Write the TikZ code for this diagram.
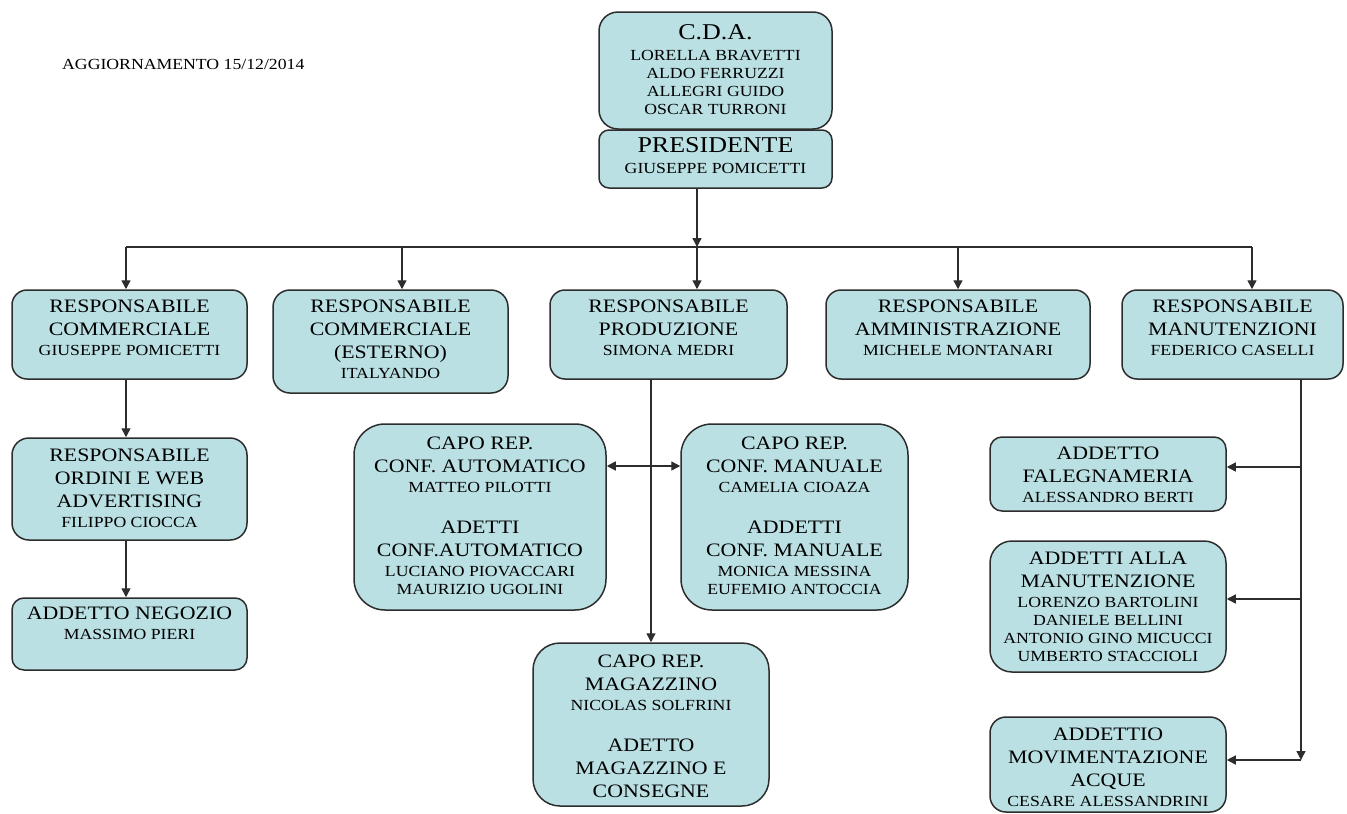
\documentclass[tikz,border=0pt]{standalone}
\usepackage{fontspec}
\setmainfont{Liberation Serif}[FakeStretch=1.15]
\usetikzlibrary{arrows.meta}
\definecolor{tuerkis}{RGB}{186,224,227}
\definecolor{rand}{RGB}{45,45,45}
\newcommand{\riesig}{\fontsize{22.6}{18}\selectfont}
\newcommand{\gross}{\fontsize{19}{18}\selectfont}
\newcommand{\klein}{\fontsize{15.4}{18}\selectfont}

\begin{document}
\begin{tikzpicture}[
        x=1pt,
        y=-1pt,
        kasten/.style={draw=rand, fill=tuerkis, line width=1.5pt, inner sep=0pt},
        schrift/.style={anchor=north, align=center, inner sep=0pt, font=\klein},
        linie/.style={draw=rand, line width=1.4pt},
        pfeil/.style={linie, -{Triangle[length=9pt,width=9pt]}},
        doppelpfeil/.style={linie, {Triangle[length=9pt,width=9pt]}-{Triangle[length=9pt,width=9pt]}}]

\useasboundingbox (0,0) rectangle (1347,814);

%Datum
\node[anchor=base west, inner sep=0pt, font=\klein] (datum) at (62,69) {AGGIORNAMENTO 15/12/2014};

%Vorstand
\node[kasten, minimum width=233, minimum height=117, rounded corners=19] (cda) at (715.5,70.5) {};
\node[schrift] (cdatext) at ([yshift=-13pt]cda.north) {{\riesig C.D.A.}\\[2.7pt]LORELLA BRAVETTI\\ALDO FERRUZZI\\ALLEGRI GUIDO\\OSCAR TURRONI};
\node[kasten, minimum width=233, minimum height=58, rounded corners=10] (pres) at (715.5,159) {};
\node[schrift] (prestext) at ([yshift=-8pt]pres.north) {{\riesig PRESIDENTE}\\[2.7pt]GIUSEPPE POMICETTI};

%Erste Ebene
\node[kasten, minimum width=235, minimum height=89, rounded corners=15] (rc) at (129.5,334.5) {};
\node[schrift] (rctext) at ([yshift=-10pt]rc.north) {{\gross RESPONSABILE}\\[5pt]{\gross COMMERCIALE}\\[2pt]GIUSEPPE POMICETTI};
\node[kasten, minimum width=235, minimum height=103, rounded corners=17] (rce) at (390.5,341.5) {};
\node[schrift] (rcetext) at ([yshift=-10pt]rce.north) {{\gross RESPONSABILE}\\[5pt]{\gross COMMERCIALE}\\[5pt]{\gross (ESTERNO)}\\[2pt]ITALYANDO};
\node[kasten, minimum width=237, minimum height=89, rounded corners=15] (rp) at (668.5,334.5) {};
\node[schrift] (rptext) at ([yshift=-10pt]rp.north) {{\gross RESPONSABILE}\\[5pt]{\gross PRODUZIONE}\\[2pt]SIMONA MEDRI};
\node[kasten, minimum width=264, minimum height=89, rounded corners=15] (ra) at (958,334.5) {};
\node[schrift] (ratext) at ([yshift=-10pt]ra.north) {{\gross RESPONSABILE}\\[5pt]{\gross AMMINISTRAZIONE}\\[2pt]MICHELE MONTANARI};
\node[kasten, minimum width=221, minimum height=89, rounded corners=15] (rm) at (1232.5,334.5) {};
\node[schrift] (rmtext) at ([yshift=-10pt]rm.north) {{\gross RESPONSABILE}\\[5pt]{\gross MANUTENZIONI}\\[2pt]FEDERICO CASELLI};

%Kommerziell
\node[kasten, minimum width=235, minimum height=102, rounded corners=17] (row) at (129.5,489) {};
\node[schrift] (rowtext) at ([yshift=-11pt]row.north) {{\gross RESPONSABILE}\\[5pt]{\gross ORDINI E WEB}\\[5pt]{\gross ADVERTISING}\\[2pt]FILIPPO CIOCCA};
\node[kasten, minimum width=235, minimum height=72, rounded corners=12] (an) at (129.5,634) {};
\node[schrift] (antext) at ([yshift=-9pt]an.north) {{\gross ADDETTO NEGOZIO}\\[2pt]MASSIMO PIERI};

%Produktion
\node[kasten, minimum width=252, minimum height=186, rounded corners=31] (cra) at (480,517) {};
\node[schrift] (cratext) at ([yshift=-13pt]cra.north) {{\gross CAPO REP.}\\[5pt]{\gross CONF. AUTOMATICO}\\[2pt]MATTEO PILOTTI\\[23pt]{\gross ADETTI}\\[5pt]{\gross CONF.AUTOMATICO}\\[2pt]LUCIANO PIOVACCARI\\MAURIZIO UGOLINI};
\node[kasten, minimum width=227, minimum height=186, rounded corners=31] (crm) at (794.5,517) {};
\node[schrift] (crmtext) at ([yshift=-13pt]crm.north) {{\gross CAPO REP.}\\[5pt]{\gross CONF. MANUALE}\\[2pt]CAMELIA CIOAZA\\[23pt]{\gross ADDETTI}\\[5pt]{\gross CONF. MANUALE}\\[2pt]MONICA MESSINA\\EUFEMIO ANTOCCIA};
\node[kasten, minimum width=236, minimum height=163, rounded corners=27] (crmag) at (651,724.5) {};
\node[schrift] (crmagtext) at ([yshift=-12pt]crmag.north) {{\gross CAPO REP.}\\[5pt]{\gross MAGAZZINO}\\[2pt]NICOLAS SOLFRINI\\[23pt]{\gross ADETTO}\\[5pt]{\gross MAGAZZINO E}\\[5pt]{\gross CONSEGNE}};

%Wartung
\node[kasten, minimum width=236, minimum height=74, rounded corners=12] (af) at (1108,474) {};
\node[schrift] (aftext) at ([yshift=-10pt]af.north) {{\gross ADDETTO}\\[5pt]{\gross FALEGNAMERIA}\\[2pt]ALESSANDRO BERTI};
\node[kasten, minimum width=236, minimum height=131, rounded corners=22] (am) at (1108,606.5) {};
\node[schrift] (amtext) at ([yshift=-11pt]am.north) {{\gross ADDETTI ALLA}\\[5pt]{\gross MANUTENZIONE}\\[2pt]LORENZO BARTOLINI\\DANIELE BELLINI\\ANTONIO GINO MICUCCI\\UMBERTO STACCIOLI};
\node[kasten, minimum width=236, minimum height=95, rounded corners=16] (ama) at (1108,764.5) {};
\node[schrift] (amatext) at ([yshift=-11pt]ama.north) {{\gross ADDETTIO}\\[5pt]{\gross MOVIMENTAZIONE}\\[5pt]{\gross ACQUE}\\[2pt]CESARE ALESSANDRINI};

%Verteiler
\coordinate (abzweig1) at (126,247);
\coordinate (abzweig2) at (402,247);
\coordinate (abzweig3) at (697,247);
\coordinate (abzweig4) at (958,247);
\coordinate (abzweig5) at (1252,247);
\coordinate (mv) at ([xshift=68.5pt]rm.south);
\coordinate (konf) at (0,466);
\coordinate (afp) at ([yshift=7pt]af.east);
\coordinate (amp) at ([yshift=7.5pt]am.east);
\coordinate (amap) at ([yshift=4.5pt]ama.east);

%Verbindungen
\draw[pfeil] (abzweig3 |- pres.south) -- (abzweig3);
\draw[linie] (abzweig1) -- (abzweig5);
\draw[pfeil] (abzweig1) -- (abzweig1 |- rc.north);
\draw[pfeil] (abzweig2) -- (abzweig2 |- rce.north);
\draw[pfeil] (abzweig3) -- (abzweig3 |- rp.north);
\draw[pfeil] (abzweig4) -- (abzweig4 |- ra.north);
\draw[pfeil] (abzweig5) -- (abzweig5 |- rm.north);
\draw[pfeil] (abzweig1 |- rc.south) -- (abzweig1 |- row.north);
\draw[pfeil] (abzweig1 |- row.south) -- (abzweig1 |- an.north);
\draw[pfeil] (crmag.north |- rp.south) -- (crmag.north);
\draw[doppelpfeil] (cra.east |- konf) -- (crm.west |- konf);
\draw[pfeil] (mv) -- (mv |- amap);
\draw[pfeil] (mv |- afp) -- (afp);
\draw[pfeil] (mv |- amp) -- (amp);
\draw[pfeil] (mv |- amap) -- (amap);

\end{tikzpicture}
\end{document}
